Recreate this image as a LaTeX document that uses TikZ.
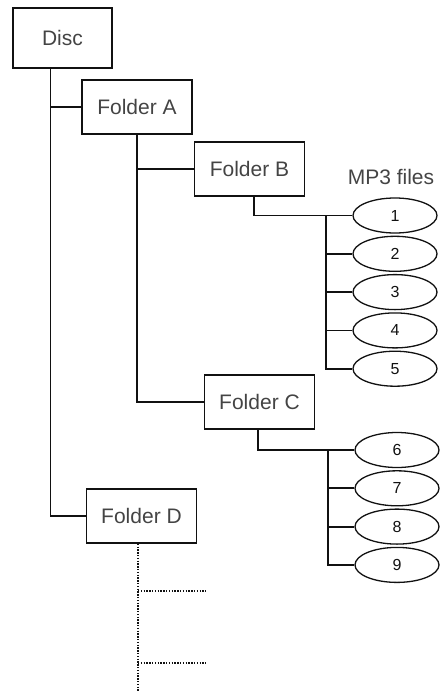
\documentclass[tikz,border=0pt]{standalone}
\usepackage{fontspec}
\setmainfont{Liberation Sans}
\usetikzlibrary{positioning,shapes.geometric}
\definecolor{lineBlack}{HTML}{111111}
\definecolor{textGrey}{HTML}{444444}

\begin{document}
\begin{tikzpicture}[
      x=1pt, y=1pt,
      node distance=2pt,
      folder/.style={
        rectangle, draw=lineBlack, line width=1.7pt, text=textGrey,
        minimum width=110pt, minimum height=54pt, inner sep=0pt,
        font=\fontsize{21pt}{23pt}\selectfont
      },
      track/.style={
        ellipse, draw=lineBlack, line width=1.3pt, text=lineBlack,
        minimum width=84pt, minimum height=35pt, inner sep=0pt,
        font=\fontsize{16pt}{18pt}\selectfont
      },
      link/.style={draw=lineBlack, line width=1.8pt},
      stub/.style={draw=lineBlack, line width=1.5pt, dash pattern=on 1.4pt off 1.4pt}
    ]
      \useasboundingbox (0,0) rectangle (444,-691);

      \node[folder, minimum width=99pt, minimum height=60pt] (disc) at (62.5,-38) {Disc};
      \node[folder] (fa) at (137,-107) {Folder A};
      \node[folder] (fb) at (249.5,-169) {Folder B};
      \node[folder] (fc) at (259.5,-402) {Folder C};
      \node[folder] (fd) at (141.5,-516) {Folder D};

      \node[text=textGrey, font=\fontsize{21pt}{23pt}\selectfont] (mp3) at (391,-177) {MP3 files};

      % files in Folder B
      \node[track] (f1) at (395,-215.5) {1};
      \node[track, below=of f1] (f2) {2};
      \node[track, below=of f2] (f3) {3};
      \node[track, below=of f3] (f4) {4};
      \node[track, below=of f4] (f5) {5};

      % files in Folder C
      \node[track] (f6) at (397,-450) {6};
      \node[track, below=of f6] (f7) {7};
      \node[track, below=of f7] (f8) {8};
      \node[track, below=of f8] (f9) {9};

      \coordinate (busB) at ([xshift=-26pt]f1.west);
      \coordinate (busC) at ([xshift=-26pt]f6.west);
      \coordinate (dEnd) at ([xshift=-3.5pt]fd.south |- 0,-691);
      \coordinate (d1) at (206,-591);
      \coordinate (d2) at (206,-663);

      \draw[link] ([xshift=-12pt]disc.south) |- (fa.west);
      \draw[link] ([xshift=-12pt]disc.south) |- (fd.west);
      \draw[link] (fa.south) |- (fb.west);
      \draw[link] (fa.south) |- (fc.west);

      \draw[link] ([xshift=4.5pt]fb.south) |- (f1.west);
      \foreach \i in {2,...,5}
        \draw[link] (busB) |- (f\i.west);

      \draw[link] ([xshift=-1.5pt]fc.south) |- (f6.west);
      \foreach \i in {7,8,9}
        \draw[link] (busC) |- (f\i.west);

      \draw[stub] ([xshift=-3.5pt]fd.south) -- (dEnd);
      \draw[stub] (dEnd |- d1) -- (d1);
      \draw[stub] (dEnd |- d2) -- (d2);
    \end{tikzpicture}
\end{document}
